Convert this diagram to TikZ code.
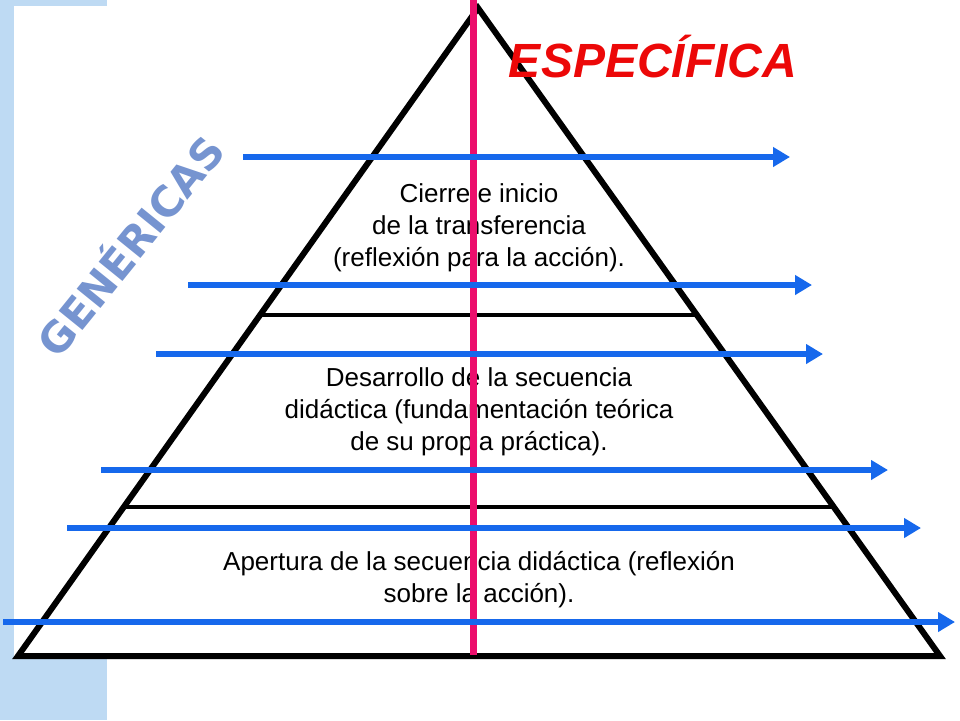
\documentclass[tikz,border=0pt]{standalone}
\usepackage{fontspec}
\setmainfont{Liberation Sans}
\newfontfamily\wideFont{DejaVu Sans}
\usepackage{tikz}
\usetikzlibrary{arrows.meta,calc}
\definecolor{flowblue}{RGB}{22,104,236}
\definecolor{axispink}{RGB}{236,14,108}
\definecolor{stripblue}{RGB}{190,218,243}
\definecolor{genblue}{RGB}{118,148,208}
\definecolor{specred}{RGB}{236,8,8}

\begin{document}
\begin{tikzpicture}[x=1pt,y=-1pt,
  level text/.style={align=center,inner sep=0pt,
    font=\fontsize{26}{31.8}\selectfont},
  flow arrow/.style={draw=flowblue,line width=6pt,
    -{Triangle[length=17pt,width=19pt]}},
  edge line/.style={draw=black,line width=6pt,line join=miter}]

  \useasboundingbox (0,0) rectangle (960,720);

  % margin strips
  \fill[stripblue] (0,0) rectangle (14,720);
  \fill[stripblue] (0,0) rectangle (107,6);
  \fill[stripblue] (0,658) rectangle (107,720);

  % pyramid
  \coordinate (top) at (478,8);
  \coordinate (bl) at (18,656);
  \coordinate (br) at (940,656);
  \coordinate (upL) at ($(bl)!0.526!(top)$);
  \coordinate (upR) at ($(br)!0.526!(top)$);
  \coordinate (lowL) at ($(bl)!0.230!(top)$);
  \coordinate (lowR) at ($(br)!0.230!(top)$);
  \filldraw[edge line,fill=white] (top) -- (br) -- (bl) -- cycle;
  \draw[black,line width=4.5pt] (upL) -- (upR);
  \draw[black,line width=4.5pt] (lowL) -- (lowR);

  \node[level text] (cierre) at (479,228)
    {Cierre e inicio\\de la transferencia\\(reflexión para la acción).};
  \node[level text] (desarrollo) at (479,412)
    {Desarrollo de la secuencia\\didáctica (fundamentación teórica\\de su propia práctica).};
  \node[level text] (apertura) at (479,580)
    {Apertura de la secuencia didáctica (reflexión\\sobre la acción).};

  % axis
  \coordinate (axisTop) at (473,0);
  \coordinate (axisBot) at (473,655);
  \draw[axispink,line width=7pt] (axisTop) -- (axisBot);

  % arrows
  \coordinate (aOne) at (243,157);  \coordinate (bOne) at (790,157);
  \coordinate (aTwo) at (188,285);  \coordinate (bTwo) at (812,285);
  \coordinate (aThree) at (156,354);\coordinate (bThree) at (823,354);
  \coordinate (aFour) at (101,470); \coordinate (bFour) at (888,470);
  \coordinate (aFive) at (67,528);  \coordinate (bFive) at (921,528);
  \coordinate (aSix) at (3,622);    \coordinate (bSix) at (955,622);
  \foreach \s/\e in {aOne/bOne,aTwo/bTwo,aThree/bThree,aFour/bFour,aFive/bFive,aSix/bSix}
    \draw[flow arrow] (\s) -- (\e);

  \node[text=specred,inner sep=0pt,font=\fontsize{48}{48}\selectfont\bfseries\itshape]
    (especifica) at (653,57) {ESPECÍFICA};
  \node[text=genblue,inner sep=0pt,rotate=51,font=\wideFont\fontsize{42}{42}\selectfont\bfseries]
    (genericas) at (128,244) {GENÉRICAS};
\end{tikzpicture}
\end{document}
